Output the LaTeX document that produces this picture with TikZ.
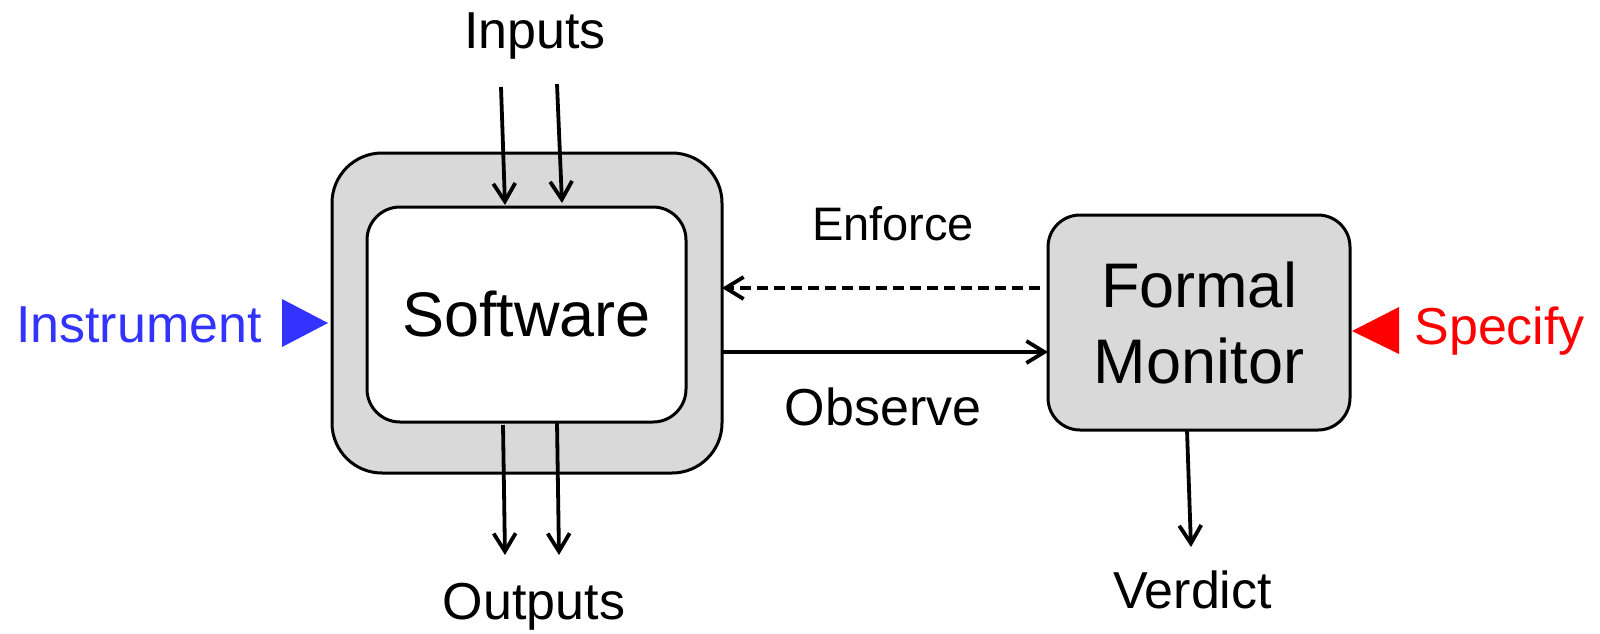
\documentclass[tikz,border=0pt]{standalone}
\usepackage{fontspec}
\setmainfont{Liberation Sans}
\usetikzlibrary{arrows.meta,calc}

\definecolor{boxgray}{RGB}{217,217,217}
\definecolor{instblue}{RGB}{51,51,255}
\definecolor{specred}{RGB}{255,0,0}

\tikzset{
  boxline/.style={draw=black, line width=1.5pt, inner sep=0pt, outer sep=0pt},
  arr/.style={line width=1.9pt, -{Straight Barb[length=9pt,width=11pt,line width=1.9pt]}},
  lbl/.style={anchor=base, inner sep=0pt, font=\fontsize{26}{31}\selectfont},
  big/.style={font=\fontsize{31.5}{38}\selectfont, align=center},
}

\begin{document}
\begin{tikzpicture}[x=0.5pt, y=-0.5pt]
  \useasboundingbox (0,0) rectangle (1600,633);

  % instrumented software: grey shell with the program inside
  \node[boxline, fill=boxgray, rounded corners=25pt,
        minimum width=195pt, minimum height=160pt] (outer) at (527,313) {};
  \node[boxline, fill=white, rounded corners=16.5pt, big,
        minimum width=159.5pt, minimum height=107.5pt] (inner) at (526.5,314.5) {Software};

  % monitor
  \node[boxline, fill=boxgray, rounded corners=16pt, big,
        minimum width=151pt, minimum height=107.5pt] (mon) at (1199,322.5) {Formal\\Monitor};

  % labels
  \node[lbl] (inputs)  at (535,48)  {Inputs};
  \node[lbl] (outputs) at (534,619) {Outputs};
  \node[lbl] (verdict) at (1192.5,608) {Verdict};
  \node[lbl, font=\fontsize{23.5}{28}\selectfont] (enforce) at (893,240) {Enforce};
  \node[lbl] (observe) at (883,425) {Observe};
  \node[lbl, text=instblue] (instrument) at (139,342) {Instrument};
  \node[lbl, text=specred, anchor=base west] (specify) at (1414,344) {Specify};

  % markers beside the side labels
  \fill[instblue] (282,299) -- (282,347) -- (328,323) -- cycle;
  \fill[specred] (1399,307) -- (1399,354) -- (1352,331) -- cycle;

  % inputs into the program
  \coordinate (inA) at (501,87);
  \coordinate (inB) at (557,84);
  \draw[arr] (inA) -- ($(inner.north)+(-21.5,-2)$);
  \draw[arr] (inB) -- ($(inner.north)+(35.5,-4)$);

  % outputs from the program
  \coordinate (outA) at (505,555);
  \coordinate (outB) at (559,555);
  \draw[arr] ($(inner.south)+(-23.5,3)$) -- (outA);
  \draw[arr] ($(inner.south)+(30.5,0)$) -- (outB);

  % observe / enforce between software and monitor
  \coordinate (obsy) at (0,352);
  \coordinate (enfy) at (0,288);
  \draw[arr] (outer.east |- obsy) -- (mon.west |- obsy);
  \draw[arr, dash pattern=on 5.5pt off 3pt] ($(mon.west |- enfy)+(-8,0)$) -- (outer.east |- enfy);

  % verdict
  \coordinate (verd) at (1191,547);
  \draw[arr] ($(mon.south)+(-12,0)$) -- (verd);
\end{tikzpicture}
\end{document}
